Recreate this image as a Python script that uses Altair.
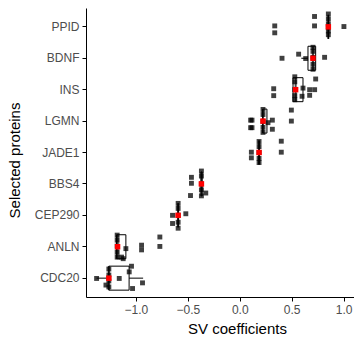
import altair as alt
import pandas as pd

proteins = ["PPID", "BDNF", "INS", "LGMN", "JADE1", "BBS4", "CEP290", "ANLN", "CDC20"]

# jittered observations (SV coefficient) and their vertical jitter (category units, + = up)
pt_values = {
    "PPID": [0.337, 0.337, 0.72, 0.72, 0.853, 0.853, 0.853, 0.853, 0.853, 0.853, 1.003],
    "BDNF": [0.407, 0.567, 0.635, 0.705, 0.705, 0.705, 0.705, 0.705, 0.817],
    "INS": [0.327, 0.327, 0.53, 0.53, 0.53, 0.53, 0.53, 0.6, 0.609, 0.673, 0.673, 0.721, 0.731],
    "LGMN": [0.105, 0.118, 0.105, 0.118, 0.224, 0.224, 0.224, 0.224, 0.224, 0.272, 0.314, 0.314, 0.497, 0.497],
    "JADE1": [0.112, 0.112, 0.186, 0.186, 0.186, 0.186, 0.186, 0.4, 0.4],
    "BBS4": [-0.474, -0.465, -0.465, -0.369, -0.369, -0.369, -0.369, -0.369, -0.327],
    "CEP290": [-0.647, -0.647, -0.593, -0.593, -0.593, -0.593, -0.593, -0.519],
    "ANLN": [-1.18, -1.18, -1.18, -1.18, -1.18, -1.138, -1.122, -1.096, -0.945, -0.945, -0.769, -0.769],
    "CDC20": [-1.378, -1.288, -1.26, -1.26, -1.26, -1.26, -1.16, -1.064, -1.042, -1.032, -0.936],
}
pt_jitter = {
    "PPID": [0.03, -0.19, 0.33, 0.03, 0.41, 0.25, 0.09, 0.0, -0.13, -0.25, 0.01],
    "BDNF": [0.0, 0.13, -0.01, 0.35, 0.22, 0.03, -0.19, -0.35, 0.03],
    "INS": [0.03, -0.19, 0.41, 0.25, 0.0, -0.19, -0.32, -0.21, 0.05, 0.0, -0.18, 0.0, 0.34],
    "LGMN": [0.03, 0.03, -0.21, -0.21, 0.37, 0.21, -0.01, -0.2, -0.36, -0.05, 0.03, -0.26, 0.35, 0.0],
    "JADE1": [0.01, -0.17, 0.35, 0.19, 0.0, -0.19, -0.32, 0.36, 0.01],
    "BBS4": [-0.37, 0.21, 0.02, 0.41, 0.25, 0.0, -0.19, -0.38, -0.29],
    "CEP290": [0.0, -0.26, 0.38, 0.22, 0.0, -0.22, -0.41, 0.05],
    "ANLN": [0.37, 0.21, 0.02, -0.17, -0.33, -0.33, -0.38, -0.06, 0.05, -0.1, 0.31, 0.01],
    "CDC20": [-0.01, -0.22, 0.29, 0.1, -0.09, -0.28, -0.01, 0.2, 0.38, -0.33, -0.15],
}

# boxplot statistics per protein
lower_w = [0.853, 0.593, 0.513, 0.22, 0.186, -0.372, -0.593, -1.186, -1.378]
q1 = [0.853, 0.657, 0.513, 0.22, 0.186, -0.372, -0.593, -1.186, -1.26]
median = [0.853, 0.705, 0.538, 0.224, 0.186, -0.369, -0.593, -1.176, -1.26]
q3 = [0.853, 0.731, 0.609, 0.262, 0.186, -0.362, -0.593, -1.096, -1.065]
upper_w = [0.853, 0.731, 0.609, 0.262, 0.186, -0.362, -0.593, -1.096, -0.93]

x_ticks = [-1.0, -0.5, 0.0, 0.5, 1.0]

rows = []
for p in proteins:
    for v, j in zip(pt_values[p], pt_jitter[p]):
        rows.append({"protein": p, "value": v, "jit": j})
points_df = pd.DataFrame(rows)
stats_df = pd.DataFrame({"protein": proteins, "lower": lower_w, "q1": q1,
                         "median": median, "q3": q3, "upper": upper_w})

FONT = "Liberation Sans"
xscale = alt.Scale(domain=[-1.48, 1.1], nice=False, zero=False)
yscale = alt.Scale(domain=proteins, paddingInner=0, paddingOuter=0.1)

x_axis = alt.Axis(values=x_ticks, format=".1f", title="SV coefficients", grid=False,
                  titleX=151, titleY=31, titleBaseline="middle", titleAlign="center")
y_axis = alt.Axis(title="Selected proteins", grid=False, titleAngle=270,
                  titleX=-72, titleY=152, titleBaseline="middle", titleAlign="center")

base_stats = alt.Chart(stats_df)

boxes = base_stats.mark_bar(size=24, fill="white", stroke="black", strokeWidth=1).encode(
    x=alt.X("q1:Q", scale=xscale, axis=x_axis),
    x2="q3:Q",
    y=alt.Y("protein:N", scale=yscale, axis=y_axis, sort=proteins),
)
whisk_lo = base_stats.mark_rule(color="black", strokeWidth=1).encode(
    x=alt.X("lower:Q", scale=xscale), x2="q1:Q",
    y=alt.Y("protein:N", scale=yscale, sort=proteins),
)
whisk_hi = base_stats.mark_rule(color="black", strokeWidth=1).encode(
    x=alt.X("q3:Q", scale=xscale), x2="upper:Q",
    y=alt.Y("protein:N", scale=yscale, sort=proteins),
)
med = base_stats.mark_tick(color="black", size=24, thickness=2, orient="vertical").encode(
    x=alt.X("median:Q", scale=xscale),
    y=alt.Y("protein:N", scale=yscale, sort=proteins),
)
pts = alt.Chart(points_df).mark_square(size=24, color="black", opacity=0.75).encode(
    x=alt.X("value:Q", scale=xscale),
    y=alt.Y("protein:N", scale=yscale, sort=proteins),
    yOffset=alt.YOffset("jit:Q", scale=alt.Scale(domain=[0.5, -0.5])),
)
red = base_stats.mark_square(size=30, color="#FF0000", opacity=1).encode(
    x=alt.X("median:Q", scale=xscale),
    y=alt.Y("protein:N", scale=yscale, sort=proteins),
)

chart = alt.layer(boxes, whisk_lo, whisk_hi, med, pts, red).properties(
    width=268, height=289,
    autosize=alt.AutoSizeParams(type="none"),
    padding={"left": 86, "top": 8, "right": 0, "bottom": 41},
).configure_view(stroke=None).configure_axis(
    domainColor="black", domainWidth=1, tickColor="black", tickSize=4, tickWidth=1,
    labelColor="#4D4D4D", labelFont=FONT, labelFontSize=12, labelPadding=3,
    titleColor="black", titleFont=FONT, titleFontSize=15, titleFontWeight="normal",
)

chart.save("out.html", embed_options={"renderer": "svg", "actions": False})
